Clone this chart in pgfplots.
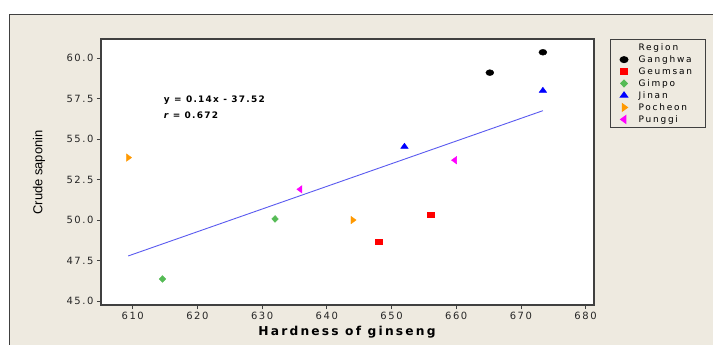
\documentclass[border=0pt]{standalone}
\usepackage{fontspec}
\setmainfont{DejaVu Sans}
\newfontfamily\tickfont[LetterSpace=16]{DejaVu Sans}
\newfontfamily\legfont[LetterSpace=20]{DejaVu Sans}
\newfontfamily\annfont[LetterSpace=14]{DejaVu Sans}
\newfontfamily\xlabfont[LetterSpace=18]{DejaVu Sans}
\newfontfamily\ylabfont{Liberation Sans}
\usepackage{pgfplots}
\pgfplotsset{compat=1.18}
\definecolor{bg}{HTML}{EEEAE0}
\definecolor{frm}{HTML}{404040}
\definecolor{cgreen}{HTML}{55BB55}
\definecolor{corange}{HTML}{FF9900}
\definecolor{cmag}{HTML}{FF00FF}
\definecolor{cline}{HTML}{5A5AF0}
\begin{document}
\begin{tikzpicture}
\path[use as bounding box] (0,0) rectangle (713bp,345bp);
\fill[bg] (9bp,0) rectangle (713bp,330bp);
\draw[frm, line width=1bp] (9bp,0) -- (9bp,330bp) -- (713bp,330bp);
\begin{axis}[
  at={(101bp,40bp)}, anchor=south west,
  scale only axis, width=493bp, height=266bp,
  xmin=605.1, xmax=681.3, ymin=44.75, ymax=61.19,
  xtick={610,620,...,680}, ytick={45,47.5,...,60},
  /pgf/number format/assume math mode=true,
  yticklabel style={/pgf/number format/fixed, /pgf/number format/fixed zerofill, /pgf/number format/precision=1},
  xticklabel style={/pgf/number format/fixed, /pgf/number format/1000 sep={}},
  tick label style={font=\tickfont\fontsize{10}{12}\selectfont, text=black!85},
  axis background/.style={fill=white},
  axis line style={frm, line width=1.2bp},
  tick align=outside, xtick pos=bottom, ytick pos=left,
  tick style={frm, line width=0.8bp}, major tick length=4bp,
  xlabel={\xlabfont\fontsize{12.3}{14}\selectfont\bfseries Hardness of ginseng},
  ylabel={\ylabfont\fontsize{13}{15}\selectfont Crude saponin},
  xlabel style={at={(axis description cs:0.499,-0.1015)}, anchor=center},
  ylabel style={at={(axis description cs:-0.1258,0.498)}, anchor=center},
  /pgfplots/only mark legend/.style={/pgfplots/legend image code/.code={%
    \path[draw=none, fill=none] (0bp,-3bp) rectangle (21bp,3bp);
    \draw[##1] plot coordinates {(9bp,0bp)};}},
  legend style={at={(axis description cs:1.0325,1.0)}, anchor=north west,
    draw=frm, line width=1bp, fill=bg,
    font=\legfont\fontsize{9}{10}\selectfont, row sep=-0.3bp,
    inner xsep=5bp, inner ysep=2bp,
    /tikz/every even column/.append style={text width=60bp}},
  legend cell align=left,
  clip=false,
]
\addlegendimage{legend image code/.code={\path[draw=none, fill=none] (0bp,-3bp) rectangle (21bp,3bp);}}
\addlegendentry{Region}
\addplot[only marks, mark=*, black, mark size=3.3bp, mark options={xscale=1.2, yscale=0.9}]
  coordinates {(665.2,59.11) (673.4,60.37)};
\addlegendentry{Ganghwa}
\addplot[only marks, mark=square*, red, mark size=3.4bp, mark options={yscale=0.75}]
  coordinates {(648.0,48.67) (656.1,50.33)};
\addlegendentry{Geumsan}
\addplot[only marks, mark=diamond*, cgreen, mark size=4bp, mark options={xscale=1.1, yscale=0.85}]
  coordinates {(614.6,46.36) (632.0,50.07)};
\addlegendentry{Gimpo}
\addplot[only marks, mark=triangle*, blue, mark size=4.3bp, mark options={yscale=0.8}]
  coordinates {(652.0,54.54) (673.4,58.0)};
\addlegendentry{Jinan}
\addplot[only marks, mark=triangle*, corange, mark size=4.3bp, mark options={rotate=-90, yscale=0.8}]
  coordinates {(609.3,53.86) (644.0,50.0)};
\addlegendentry{Pocheon}
\addplot[only marks, mark=triangle*, cmag, mark size=4.3bp, mark options={rotate=90, yscale=0.8}]
  coordinates {(635.9,51.9) (659.8,53.7)};
\addlegendentry{Punggi}
\addplot[cline, line width=0.9bp, forget plot]
  coordinates {(609.3,47.78) (673.4,56.76)};
\node[anchor=west, font=\annfont\fontsize{9}{10}\selectfont\bfseries, inner sep=0] at (axis cs:614.8,57.42) {y = 0.14x - 37.52};
\node[anchor=west, font=\annfont\fontsize{9}{10}\selectfont\bfseries, inner sep=0] at (axis cs:614.8,56.5) {\itshape r\upshape{} = 0.672};
\end{axis}
\end{tikzpicture}
\end{document}
